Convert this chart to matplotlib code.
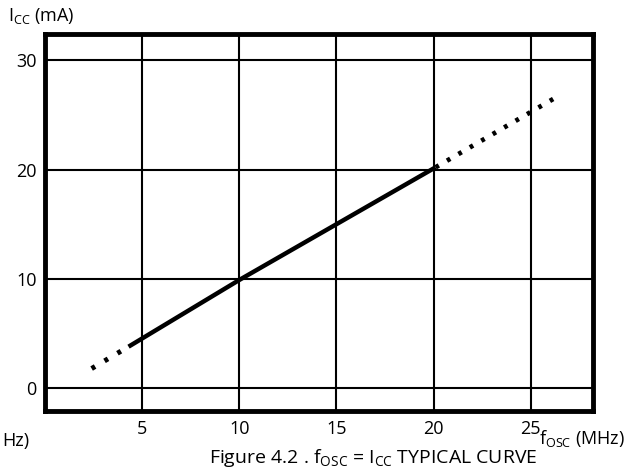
import matplotlib
matplotlib.use("Agg")
import matplotlib.pyplot as plt

# measured curve (fosc in MHz, Icc in mA)
solid_x = [4.3, 10.0, 20.1]
solid_y = [3.8, 9.9, 20.2]
low_dot_x = [2.4, 4.3]
low_dot_y = [1.8, 3.8]
high_dot_x = [20.1, 26.3]
high_dot_y = [20.2, 26.6]

xticks = [5, 10, 15, 20, 25]
yticks = [0, 10, 20, 30]

plt.rcParams['font.family'] = ['Open Sans', 'DejaVu Sans']

fig = plt.figure(figsize=(6.32, 4.71), dpi=100)
ax = fig.add_axes([0.0712, 0.127, 0.867, 0.801])

ax.plot(solid_x, solid_y, color='black', lw=3.2, solid_capstyle='butt', zorder=3)
ax.plot(low_dot_x, low_dot_y, color='black', lw=3.6, linestyle=(0, (0.8, 2.2)), zorder=3)
ax.plot(high_dot_x, high_dot_y, color='black', lw=3.4, linestyle=(0, (0.8, 2.0)), zorder=3)

ax.set_xlim(0, 28.2)
ax.set_ylim(-2.1, 32.4)
ax.set_xticks(xticks)
ax.set_yticks(yticks)
ax.grid(True, color='black', lw=1.5)
ax.tick_params(length=0, labelsize=13, pad=6)
for s in ax.spines.values():
    s.set_linewidth(3.5)

fig.text(0.012, 0.966, r'I$_{\mathregular{CC}}$ (mA)', fontsize=13, va='center')
fig.text(0.003, 0.064, 'Hz)', fontsize=13, va='center')
fig.text(0.853, 0.068, r'f$_{\mathregular{OSC}}$ (MHz)', fontsize=13, va='center')
fig.text(0.59, 0.028, r'Figure 4.2 . f$_{\mathregular{OSC}}$ = I$_{\mathregular{CC}}$ TYPICAL CURVE',
         fontsize=14, ha='center', va='center')

fig.savefig('out.png', dpi=100)
